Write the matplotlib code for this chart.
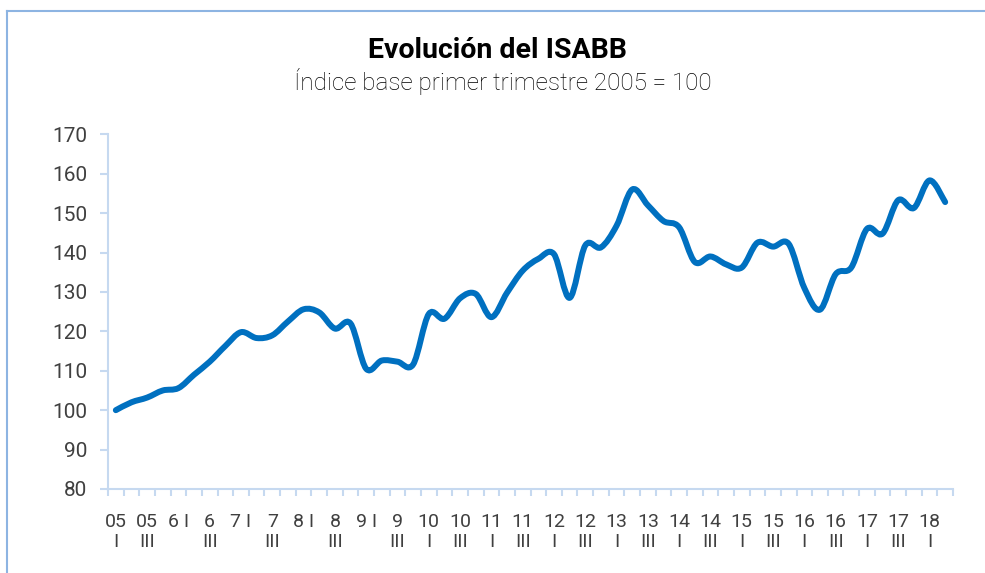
import numpy as np
import matplotlib
matplotlib.use("Agg")
import matplotlib.pyplot as plt
from matplotlib.path import Path
from matplotlib.patches import PathPatch
from matplotlib.lines import Line2D

# ISABB quarterly index, 2005 Q1 .. 2018 Q2 (2005 Q1 = 100)
isabb = [100.0, 102.0, 103.2, 105.0, 105.6, 109.0, 112.3, 116.3, 119.8, 118.3,
         119.0, 122.5, 125.6, 124.8, 120.7, 122.0, 110.5, 112.6, 112.3, 111.6,
         124.4, 123.2, 128.4, 129.5, 123.6, 129.8, 135.4, 138.4, 139.6, 128.5,
         141.8, 141.3, 146.8, 156.0, 152.0, 148.0, 146.4, 137.6, 139.0, 137.0,
         136.2, 142.5, 141.5, 142.2, 131.0, 125.5, 134.5, 136.2, 146.0, 144.8,
         153.3, 151.3, 158.3, 152.8]

# one label every two quarters (as wrapped by the original spreadsheet)
tick_labels = ["05\nI", "05\nIII", "6 I", "6\nIII", "7 I", "7\nIII", "8 I", "8\nIII",
               "9 I", "9\nIII", "10\nI", "10\nIII", "11\nI", "11\nIII", "12\nI", "12\nIII",
               "13\nI", "13\nIII", "14\nI", "14\nIII", "15\nI", "15\nIII", "16\nI", "16\nIII",
               "17\nI", "17\nIII", "18\nI"]

plt.rcParams['font.family'] = ['Roboto', 'DejaVu Sans']

axis_col = "#C6D9F0"
text_col = "#404040"
line_col = "#0070C0"

fig = plt.figure(figsize=(9.85, 5.73), dpi=100)
ax = fig.add_axes([108/985, 1 - 489/573, (953 - 108)/985, (489 - 134.3)/573])

# smoothed line (bezier through every point, like the spreadsheet "smoothed line")
x = np.arange(len(isabb), dtype=float)
y = np.array(isabb)
px = np.concatenate([[x[0]], x, [x[-1]]])
py = np.concatenate([[y[0]], y, [y[-1]]])
verts = [(x[0], y[0])]
codes = [Path.MOVETO]
for i in range(1, len(px) - 2):
    c1 = (px[i] + (px[i+1] - px[i-1]) / 6, py[i] + (py[i+1] - py[i-1]) / 6)
    c2 = (px[i+1] - (px[i+2] - px[i]) / 6, py[i+1] - (py[i+2] - py[i]) / 6)
    verts += [c1, c2, (px[i+1], py[i+1])]
    codes += [Path.CURVE4] * 3
ax.add_patch(PathPatch(Path(verts, codes), facecolor="none", edgecolor=line_col,
                       lw=4.3, capstyle="round", joinstyle="round"))

ax.set_xlim(-0.5, len(isabb) - 0.5)
ax.set_ylim(80, 170)
ax.set_yticks(np.arange(80, 171, 10))

# boundaries carry the tick marks, labels sit on every second category
ax.set_xticks(np.arange(-0.5, len(isabb), 1.0))
ax.set_xticklabels([])
ax.set_xticks(np.arange(0, len(isabb), 2), minor=True)
ax.set_xticklabels(tick_labels, minor=True, linespacing=1.2)

ax.tick_params(axis="x", which="major", length=5, width=1.5, color=axis_col, direction="out")
ax.tick_params(axis="x", which="minor", length=0, pad=17, labelsize=14, labelcolor=text_col)
ax.tick_params(axis="y", length=6, width=1.5, color=axis_col, direction="out",
               pad=9, labelsize=15, labelcolor=text_col)

for s in ["top", "right"]:
    ax.spines[s].set_visible(False)
for s in ["left", "bottom"]:
    ax.spines[s].set_color(axis_col)
    ax.spines[s].set_linewidth(1.5)

fig.text(497/985, 1 - 58/573, "Evolución del ISABB", ha="center", va="baseline",
         fontsize=20.5, fontweight="bold", color="#000000")
fig.text(502.5/985, 1 - 90/573, "Índice base primer trimestre 2005 = 100", ha="center",
         va="baseline", fontsize=17.5, fontweight="light", color="#000000")

# chart frame edges (top and left)
fig.add_artist(Line2D([6.5/985, 1], [1 - 10.5/573, 1 - 10.5/573], transform=fig.transFigure,
                      color="#8DB4E2", lw=1.5))
fig.add_artist(Line2D([6.5/985, 6.5/985], [0, 1 - 10.5/573], transform=fig.transFigure,
                      color="#8DB4E2", lw=1.5))

fig.savefig("out.png", dpi=100)
